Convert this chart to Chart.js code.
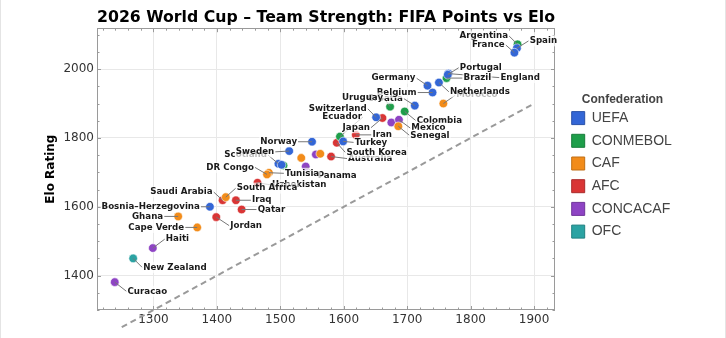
<!DOCTYPE html>
<html>
<head>
<meta charset="utf-8">
<script src="https://cdn.jsdelivr.net/npm/chart.js@4.4.1/dist/chart.umd.min.js"></script>
<style>
  body { margin: 0; background: #fff; }
  #wrap { position: relative; width: 726px; height: 338px; }
  .edge { position: absolute; top: 0; width: 1px; height: 338px; background: #e4e4e4; }
</style>
</head>
<body>
<div id="wrap">
  <canvas id="chart" width="726" height="338"></canvas>
  <div class="edge" style="left:0"></div>
  <div class="edge" style="right:0"></div>
</div>
<script>
// --- data ---
const teams = ["Spain", "Argentina", "France", "England", "Portugal", "Brazil", "Morocco", "Netherlands",
  "Germany", "Croatia", "Belgium", "Uruguay", "Colombia", "Switzerland", "Ecuador", "Japan", "USA",
  "Mexico", "Senegal", "Iran", "Turkey", "Australia", "South Korea", "Egypt", "Canada", "Algeria",
  "Norway", "Scotland", "Sweden", "Austria", "Paraguay", "Panama", "Tunisia", "DR Congo", "Uzbekistan",
  "South Africa", "Saudi Arabia", "Iraq", "Qatar", "Bosnia–Herzegovina", "Jordan", "Ghana",
  "Cape Verde", "Haiti", "New Zealand", "Curacao"];
const teamConfederation = ["UEFA", "CONMEBOL", "UEFA", "UEFA", "UEFA", "CONMEBOL", "CAF", "UEFA",
  "UEFA", "UEFA", "UEFA", "CONMEBOL", "CONMEBOL", "UEFA", "CONMEBOL", "AFC", "CONCACAF",
  "CONCACAF", "CAF", "AFC", "UEFA", "AFC", "AFC", "CAF", "CONCACAF", "CAF",
  "UEFA", "UEFA", "UEFA", "UEFA", "CONMEBOL", "CONCACAF", "CAF", "CAF", "AFC",
  "CAF", "AFC", "AFC", "AFC", "UEFA", "AFC", "CAF",
  "CAF", "CONCACAF", "OFC", "CONCACAF"];
const fifaPoints = [1873, 1874, 1869, 1765, 1764, 1762, 1757, 1750,
  1732, 1712, 1740, 1673, 1696, 1651, 1594, 1661, 1675,
  1687, 1686, 1619, 1599, 1580, 1589, 1563, 1556, 1533,
  1550, 1497, 1514, 1502, 1505, 1540, 1482, 1479, 1464,
  1414, 1409, 1430, 1439, 1389, 1399, 1339,
  1369, 1299, 1268, 1239];
const eloRatings = [2061, 2072, 2048, 1987, 1984, 1974, 1900, 1961,
  1952, 1894, 1932, 1891, 1877, 1860, 1804, 1858, 1845,
  1853, 1834, 1809, 1790, 1746, 1786, 1754, 1752, 1742,
  1789, 1725, 1762, 1722, 1720, 1717, 1699, 1694, 1670,
  1628, 1619, 1619, 1592, 1600, 1570, 1572,
  1540, 1480, 1450, 1381];
const confederations = ["UEFA", "CONMEBOL", "CAF", "AFC", "CONCACAF", "OFC"];
const xTicks = [1300, 1400, 1500, 1600, 1700, 1800, 1900];
const yTicks = [1400, 1600, 1800, 2000];
const parityLine = [1250, 1900];   // Elo = FIFA points reference line

// --- styles ---
const confColors = {
  UEFA: "#3366d6", CONMEBOL: "#1e9e4a", CAF: "#f28c1a",
  AFC: "#d93535", CONCACAF: "#8e44c4", OFC: "#2ba3a3"
};
const confBorders = {
  UEFA: "#2a52a8", CONMEBOL: "#187d3b", CAF: "#c06f14",
  AFC: "#ab2a2a", CONCACAF: "#70369b", OFC: "#228181"
};
// label offset from the dot in px: [dx, dy, side]; side "r" = text ends at dx
const labelPlacement = {
  "Spain": [12.7, -7.3], "Argentina": [-9.5, -8.4, "r"], "France": [-9.7, -7.7, "r"],
  "England": [52, 4], "Portugal": [12, -7], "Brazil": [17, 0], "Morocco": [13, -8.4],
  "Netherlands": [11, 9.3], "Germany": [-12, -7.5, "r"], "Croatia": [-12, -7, "r"],
  "Belgium": [-16, 0, "r"], "Uruguay": [-7, -8.6, "r"], "Colombia": [12, 9],
  "Switzerland": [-9.4, -8.6, "r"], "Ecuador": [22, -19.6, "r"], "Japan": [-12.5, 9.7, "r"],
  "Mexico": [12.4, 8.4], "Senegal": [12, 9], "Iran": [16.6, 0], "Turkey": [11.6, 1],
  "Australia": [17, 2], "South Korea": [9.6, 9.7], "Norway": [-15, 0, "r"],
  "Scotland": [-11.4, -8.7, "r"], "Sweden": [-15, 0.8, "r"], "Panama": [12, 9],
  "Tunisia": [16, 0.6], "DR Congo": [-13, -7, "r"], "Uzbekistan": [14.6, 2.3],
  "South Africa": [11, -9], "Saudi Arabia": [-10, -8.3, "r"], "Iraq": [16, 0],
  "Qatar": [16, 0], "Bosnia–Herzegovina": [-10, 0, "r"], "Jordan": [14, 8.6],
  "Ghana": [-15, 0, "r"], "Cape Verde": [-13, 0, "r"], "Haiti": [13, -9],
  "New Zealand": [10, 9], "Curacao": [12.7, 9.2]
};

// legend box in Chart.js v4 is clipped right after the longest text; give it some room
const legendRoom = {
  id: "legendRoom",
  afterInit(chart) {
    const lg = chart.legend;
    const fit = lg.fit;
    lg.fit = function () { fit.call(this); this.width += 12; };
  }
};

const frameAndTicks = {
  id: "frameAndTicks",
  beforeDatasetsDraw(chart) {
    const { ctx, chartArea: a, scales: { x, y } } = chart;
    ctx.save();
    ctx.strokeStyle = "#9a9a9a";
    ctx.lineWidth = 1;
    ctx.strokeRect(Math.round(a.left) + 0.5, Math.round(a.top) + 0.5,
      Math.round(a.right - a.left) - 1, Math.round(a.bottom - a.top) - 1);
    ctx.beginPath();
    for (let v = Math.ceil(x.min / 20) * 20; v <= x.max; v += 20) {
      const px = Math.round(x.getPixelForValue(v)) + 0.5;
      const len = v % 100 === 0 ? 4 : 2.5;
      ctx.moveTo(px, a.bottom); ctx.lineTo(px, a.bottom - len);
      ctx.moveTo(px, a.top); ctx.lineTo(px, a.top + len);
    }
    for (let v = Math.ceil(y.min / 50) * 50; v <= y.max; v += 50) {
      const py = Math.round(y.getPixelForValue(v)) + 0.5;
      const len = v % 200 === 0 ? 4 : 2.5;
      ctx.moveTo(a.left, py); ctx.lineTo(a.left + len, py);
      ctx.moveTo(a.right, py); ctx.lineTo(a.right - len, py);
    }
    ctx.stroke();
    ctx.restore();
  },
  afterDatasetsDraw(chart) {
    const { ctx, scales: { x, y } } = chart;
    ctx.save();
    ctx.font = 'bold 8.7px "DejaVu Sans"';
    ctx.textBaseline = "middle";
    const placed = [];
    teams.forEach((t, i) => {
      const p = labelPlacement[t];
      if (!p) return;
      const px = x.getPixelForValue(fifaPoints[i]);
      const py = y.getPixelForValue(eloRatings[i]);
      const w = ctx.measureText(t).width;
      const ly = py + p[1];
      const lx = p[2] === "r" ? px + p[0] - w : px + p[0];
      placed.push({ t, px, py, lx, ly, w, right: p[2] === "r" });
    });
    // leader lines
    ctx.strokeStyle = "#777";
    ctx.lineWidth = 1;
    placed.forEach(l => {
      const ax = l.right ? l.lx + l.w + 1 : l.lx - 1;
      ctx.beginPath();
      ctx.moveTo(l.px, l.py);
      ctx.lineTo(ax, l.ly);
      ctx.stroke();
    });
    // labels with translucent white boxes
    placed.forEach(l => {
      ctx.fillStyle = "rgba(255,255,255,0.7)";
      ctx.fillRect(l.lx - 1, l.ly - 5.5, l.w + 2, 11);
      ctx.fillStyle = "#1a1a1a";
      ctx.fillText(l.t, l.lx, l.ly);
    });
    ctx.restore();
  }
};

const datasets = confederations.map(conf => ({
  label: conf,
  data: teams.map((t, i) => ({ x: fifaPoints[i], y: eloRatings[i], team: t }))
    .filter((pt, i) => teamConfederation[i] === conf),
  backgroundColor: confColors[conf],
  borderColor: "#ffffff",
  borderWidth: 0.6,
  pointRadius: 4.3,
  pointHoverRadius: 4.3
}));
datasets.push({
  type: "line",
  label: "parity",
  data: parityLine.map(v => ({ x: v, y: v })),
  borderColor: "#9a9a9a",
  borderWidth: 2,
  borderDash: [6, 4],
  pointRadius: 0,
  showLine: true,
  clip: false,
  order: 10
});

new Chart(document.getElementById("chart"), {
  type: "scatter",
  data: { datasets },
  plugins: [legendRoom, frameAndTicks],
  options: {
    responsive: false,
    animation: false,
    events: [],
    layout: { padding: { left: 40, right: 44, top: 0, bottom: 0 } },
    plugins: {
      title: {
        display: true,
        text: "2026 World Cup – Team Strength: FIFA Points vs Elo",
        font: { family: "DejaVu Sans", size: 16, weight: "bold" },
        color: "#000",
        padding: { top: 8, bottom: 1 },
        fullSize: false
      },
      legend: {
        position: "right",
        align: "start",
        title: {
          display: true,
          text: "Confederation",
          font: { family: "Liberation Sans", size: 12, weight: "bold" },
          color: "#444",
          padding: { top: 94, bottom: -6 }
        },
        labels: {
          boxWidth: 13,
          boxHeight: 13,
          padding: 8.7,
          color: "#444",
          font: { family: "Liberation Sans", size: 14 },
          generateLabels: () => confederations.map((c, i) => ({
            text: c,
            fillStyle: confColors[c],
            strokeStyle: confBorders[c],
            lineWidth: 1,
            fontColor: "#444",
            datasetIndex: i
          }))
        }
      },
      tooltip: { enabled: false }
    },
    scales: {
      x: {
        type: "linear",
        min: 1211,
        max: 1933,
        afterBuildTicks: s => { s.ticks = xTicks.map(v => ({ value: v })); },
        afterFit: s => { s.height = 28; },
        grid: { color: "#e8e8e8", drawTicks: false },
        border: { display: false },
        ticks: { color: "#333", padding: 3, maxRotation: 0, callback: v => String(v),
          font: { family: "DejaVu Sans", size: 12 } }
      },
      y: {
        type: "linear",
        min: 1300,
        max: 2119,
        afterBuildTicks: s => { s.ticks = yTicks.map(v => ({ value: v })); },
        afterFit: s => { s.width = 57; },
        grid: { color: "#e8e8e8", drawTicks: false },
        border: { display: false },
        ticks: { color: "#333", padding: 3, callback: v => String(v),
          font: { family: "DejaVu Sans", size: 12 } },
        title: {
          display: true,
          text: "Elo Rating",
          color: "#000",
          font: { family: "DejaVu Sans", size: 12, weight: "bold" },
          padding: { top: 4, bottom: 0 }
        }
      },
      y2: {
        type: "linear",
        axis: "y",
        position: "right",
        min: 1300,
        max: 2119,
        afterFit: s => { s.width = 8; },
        grid: { display: false },
        border: { display: false },
        ticks: { display: false }
      }
    }
  }
});
</script>
</body>
</html>
